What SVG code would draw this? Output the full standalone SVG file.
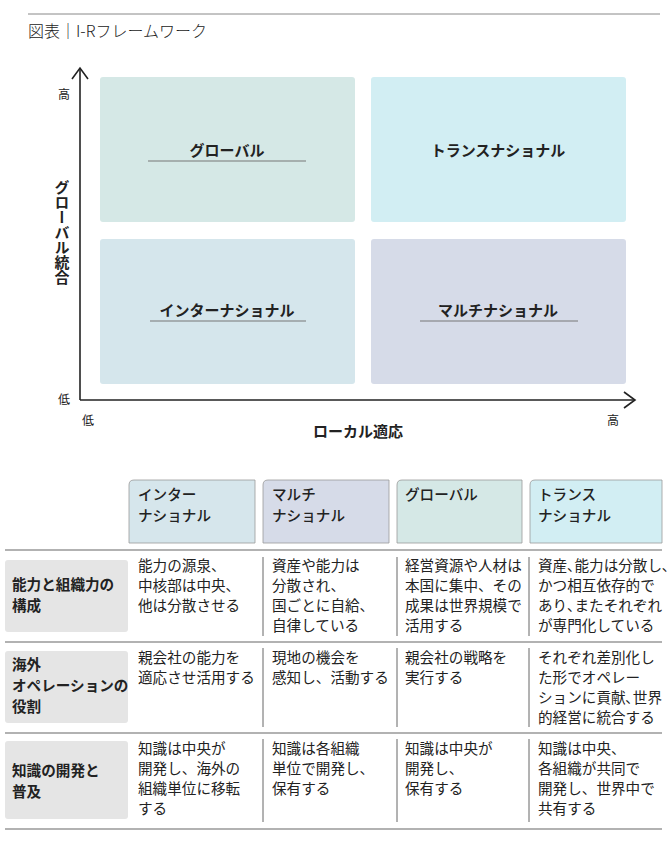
<svg xmlns="http://www.w3.org/2000/svg" width="670" height="860" viewBox="0 0 670 860">
<style>
text{font-family:"Noto Sans CJK JP","Noto Sans",sans-serif;fill:#222}
.q{font-size:15px;font-weight:bold;text-anchor:middle}
.ul{stroke:#777;stroke-width:1}
.ax{stroke:#222;stroke-width:1.6;fill:none}
.sm{font-size:12px}
.h{font-size:14.6px;font-weight:500}
.c{font-size:14.6px}
.rl{font-size:14.6px;font-weight:bold}
.rb{fill:#e5e5e5}
.row{stroke:#999;stroke-width:1.5}
.vs{stroke:#666;stroke-width:1}
</style>
<rect width="670" height="860" fill="#fff"/>
<line x1="28" y1="14" x2="660" y2="14" stroke="#888" stroke-width="1"/>
<text x="28" y="37" font-size="16" font-weight="300">図表｜I-Rフレームワーク</text>
<g id="axes" class="ax">
<polyline points="80,400 80,69"/><polyline points="72,79 80,68 88,79"/>
<polyline points="80,400 634,400"/><polyline points="624,392 635,400 624,408"/>
</g>
<text x="64" y="99" class="sm" text-anchor="middle">高</text>
<text x="64" y="404" class="sm" text-anchor="middle">低</text>
<text x="88" y="425" class="sm" text-anchor="middle">低</text>
<text x="613" y="425" class="sm" text-anchor="middle">高</text>
<text x="358" y="437" class="q">ローカル適応</text>
<text x="62" y="232" class="q" writing-mode="vertical-rl" text-anchor="middle">グローバル統合</text>
<g id="q-global"><rect x="100" y="77" width="255" height="145" rx="3" fill="#d5e8e6"/><text x="227" y="156" class="q">グローバル</text><line class="ul" x1="148" y1="161" x2="306" y2="161"/></g>
<g id="q-trans"><rect x="371" y="77" width="255" height="145" rx="3" fill="#d2eef3"/><text x="498" y="156" class="q">トランスナショナル</text></g>
<g id="q-inter"><rect x="100" y="239" width="255" height="145" rx="3" fill="#d5e6ec"/><text x="227" y="316" class="q">インターナショナル</text><line class="ul" x1="150" y1="321" x2="306" y2="321"/></g>
<g id="q-multi"><rect x="371" y="239" width="255" height="145" rx="3" fill="#d6dbe8"/><text x="498" y="316" class="q">マルチナショナル</text><line class="ul" x1="420" y1="321" x2="578" y2="321"/></g>
<g id="table-head">
<path d="M129,543 V485 Q129,480 134,480 H255 V543 Z" fill="#d6e6ec" stroke="#999" stroke-width="0.8"/>
<path d="M263,543 V485 Q263,480 268,480 H389 V543 Z" fill="#d6dbe8" stroke="#999" stroke-width="0.8"/>
<path d="M397,543 V485 Q397,480 402,480 H522 V543 Z" fill="#d5e8e6" stroke="#999" stroke-width="0.8"/>
<path d="M530,543 V485 Q530,480 535,480 H662 V543 Z" fill="#d2eef3" stroke="#999" stroke-width="0.8"/>
<text class="h" x="138" y="500">インター</text><text class="h" x="138" y="521">ナショナル</text>
<text class="h" x="272" y="500">マルチ</text><text class="h" x="272" y="521">ナショナル</text>
<text class="h" x="405" y="500">グローバル</text>
<text class="h" x="538" y="500">トランス</text><text class="h" x="538" y="521">ナショナル</text>
</g>
<g id="rows">
<line class="row" x1="5" y1="550" x2="662" y2="550"/>
<line class="row" x1="5" y1="642" x2="662" y2="642"/>
<line class="row" x1="5" y1="733" x2="662" y2="733"/>
<line class="row" x1="5" y1="829" x2="662" y2="829"/>
<rect class="rb" x="5" y="560" width="123" height="72" rx="3"/>
<rect class="rb" x="5" y="651" width="123" height="72" rx="3"/>
<rect class="rb" x="5" y="741" width="123" height="78" rx="3"/>
<text class="rl" x="12" y="590">能力と組織力の</text><text class="rl" x="12" y="611">構成</text>
<text class="rl" x="12" y="670">海外</text><text class="rl" x="12" y="691">オペレーションの</text><text class="rl" x="12" y="712">役割</text>
<text class="rl" x="12" y="776">知識の開発と</text><text class="rl" x="12" y="797">普及</text>
<g class="vs">
<line x1="263" y1="557" x2="263" y2="636"/><line x1="397" y1="557" x2="397" y2="636"/><line x1="529" y1="557" x2="529" y2="636"/>
<line x1="263" y1="648" x2="263" y2="727"/><line x1="397" y1="648" x2="397" y2="727"/><line x1="529" y1="648" x2="529" y2="727"/>
<line x1="263" y1="739" x2="263" y2="822"/><line x1="397" y1="739" x2="397" y2="822"/><line x1="529" y1="739" x2="529" y2="822"/>
</g>
<text class="c" x="138" y="571">能力の源泉、</text><text class="c" x="138" y="591">中核部は中央、</text><text class="c" x="138" y="611">他は分散させる</text>
<text class="c" x="272" y="571">資産や能力は</text><text class="c" x="272" y="591">分散され、</text><text class="c" x="272" y="611">国ごとに自給、</text><text class="c" x="272" y="631">自律している</text>
<text class="c" x="405" y="571">経営資源や人材は</text><text class="c" x="405" y="591">本国に集中、その</text><text class="c" x="405" y="611">成果は世界規模で</text><text class="c" x="405" y="631">活用する</text>
<text class="c" x="538" y="571">資産､能力は分散し､</text><text class="c" x="538" y="591">かつ相互依存的で</text><text class="c" x="538" y="611">あり､またそれぞれ</text><text class="c" x="538" y="631">が専門化している</text>
<text class="c" x="138" y="663">親会社の能力を</text><text class="c" x="138" y="683">適応させ活用する</text>
<text class="c" x="272" y="663">現地の機会を</text><text class="c" x="272" y="683">感知し、活動する</text>
<text class="c" x="405" y="663">親会社の戦略を</text><text class="c" x="405" y="683">実行する</text>
<text class="c" x="538" y="663">それぞれ差別化し</text><text class="c" x="538" y="683">た形でオペレー</text><text class="c" x="538" y="703">ションに貢献､世界</text><text class="c" x="538" y="723">的経営に統合する</text>
<text class="c" x="138" y="754">知識は中央が</text><text class="c" x="138" y="774">開発し、海外の</text><text class="c" x="138" y="794">組織単位に移転</text><text class="c" x="138" y="814">する</text>
<text class="c" x="272" y="754">知識は各組織</text><text class="c" x="272" y="774">単位で開発し、</text><text class="c" x="272" y="794">保有する</text>
<text class="c" x="405" y="754">知識は中央が</text><text class="c" x="405" y="774">開発し、</text><text class="c" x="405" y="794">保有する</text>
<text class="c" x="538" y="754">知識は中央、</text><text class="c" x="538" y="774">各組織が共同で</text><text class="c" x="538" y="794">開発し、世界中で</text><text class="c" x="538" y="814">共有する</text>
</g>
</svg>
